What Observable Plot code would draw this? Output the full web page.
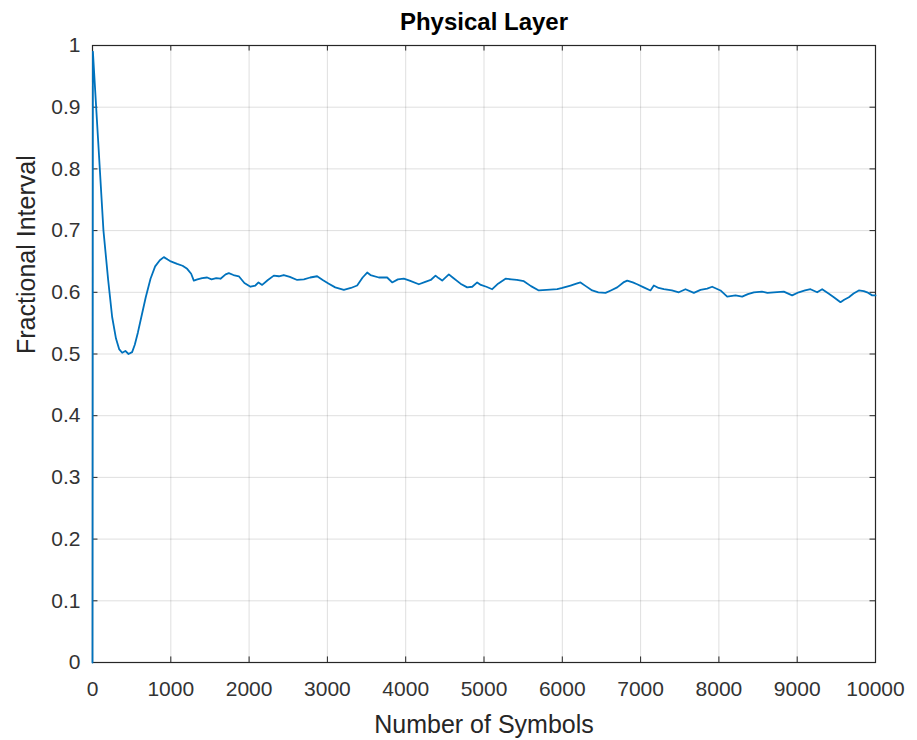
<!DOCTYPE html>
<html><head><meta charset="utf-8">
<script src="https://cdn.jsdelivr.net/npm/d3@7"></script>
<script src="https://cdn.jsdelivr.net/npm/@observablehq/plot@0.6"></script>
<style>body{margin:0;background:#fff}</style>
</head><body><div id="chart"></div>
<script>
const chartTitle = "Physical Layer";
const xLabel = "Number of Symbols";
const yLabel = "Fractional Interval";
const xTicks = [0,1000,2000,3000,4000,5000,6000,7000,8000,9000,10000];
const yTicks = [0,0.1,0.2,0.3,0.4,0.5,0.6,0.7,0.8,0.9,1];
const yTickLabels = ["0","0.1","0.2","0.3","0.4","0.5","0.6","0.7","0.8","0.9","1"];
const symbols = [0,5,70,140,200,251,300,340,379,420,460,506,540,580,613,680,741,800,860,911,960,1000,1040,1081,1150,1209,1260,1294,1340,1400,1464,1520,1580,1635,1700,1741,1800,1869,1940,2018,2080,2120,2167,2240,2316,2380,2443,2520,2614,2700,2780,2869,2940,3018,3100,3210,3300,3380,3450,3508,3550,3657,3763,3827,3900,3976,4050,4168,4250,4320,4381,4420,4466,4551,4600,4700,4785,4850,4913,4960,5030,5105,5180,5275,5350,5420,5509,5600,5700,5800,5935,6000,6105,6180,6232,6300,6382,6460,6552,6620,6701,6780,6829,6900,6956,7040,7126,7169,7230,7297,7400,7488,7573,7680,7765,7850,7914,8020,8106,8212,8297,8370,8446,8550,8620,8701,8829,8935,9020,9100,9170,9255,9319,9400,9468,9553,9600,9660,9720,9787,9850,9894,9958,10000];
const fraction = [0,0.99,0.85,0.70,0.62,0.56,0.525,0.508,0.502,0.505,0.500,0.503,0.515,0.535,0.554,0.592,0.622,0.642,0.652,0.657,0.653,0.650,0.648,0.646,0.643,0.638,0.630,0.619,0.621,0.623,0.624,0.621,0.623,0.622,0.629,0.631,0.628,0.626,0.615,0.609,0.611,0.616,0.612,0.62,0.627,0.626,0.628,0.625,0.62,0.621,0.624,0.626,0.62,0.614,0.608,0.604,0.607,0.611,0.624,0.632,0.628,0.624,0.624,0.616,0.621,0.622,0.619,0.613,0.617,0.62,0.627,0.623,0.619,0.629,0.624,0.614,0.608,0.609,0.616,0.612,0.609,0.605,0.614,0.622,0.621,0.62,0.618,0.61,0.603,0.604,0.605,0.607,0.611,0.614,0.616,0.61,0.603,0.60,0.599,0.603,0.608,0.616,0.619,0.616,0.613,0.608,0.603,0.611,0.607,0.605,0.603,0.600,0.605,0.599,0.604,0.606,0.609,0.603,0.593,0.595,0.593,0.597,0.600,0.601,0.599,0.600,0.601,0.595,0.600,0.603,0.605,0.600,0.605,0.598,0.592,0.584,0.588,0.592,0.598,0.603,0.602,0.600,0.595,0.595];

const data = symbols.map((x, i) => ({x, y: fraction[i]}));
const ink = "#262626";

const chart = Plot.plot({
  width: 917, height: 740,
  marginLeft: 92, marginRight: 42, marginTop: 45, marginBottom: 78,
  style: {fontFamily: "'Liberation Sans', Arial, sans-serif", fontSize: "21px", color: ink, background: "#fff"},
  x: {domain: [0, 10000]},
  y: {domain: [0, 1]},
  marks: [
    Plot.gridX(xTicks, {stroke: ink, strokeOpacity: 0.15}),
    Plot.gridY(yTicks, {stroke: ink, strokeOpacity: 0.15}),
    Plot.ruleX(xTicks, {y1: 0, y2: 0.009, stroke: ink}),
    Plot.ruleX(xTicks, {y1: 1, y2: 0.991, stroke: ink}),
    Plot.ruleY(yTicks, {x1: 0, x2: 70, stroke: ink}),
    Plot.ruleY(yTicks, {x1: 10000, x2: 9930, stroke: ink}),
    Plot.frame({stroke: ink, strokeWidth: 1.2}),
    Plot.line(data, {x: "x", y: "y", stroke: "#0072BD", strokeWidth: 1.8}),
    Plot.axisX(xTicks, {tickSize: 0, tickPadding: 19, label: null, tickFormat: d => String(d), fill: "#333"}),
    Plot.axisY(yTicks, {tickSize: 0, tickPadding: 12, label: null, tickFormat: (d, i) => yTickLabels[i], fill: "#333"}),
    Plot.text([chartTitle], {frameAnchor: "top", lineAnchor: "middle", dy: -23, fontWeight: "bold", fontSize: 24, fill: "#000"}),
    Plot.text([xLabel], {frameAnchor: "bottom", lineAnchor: "middle", dy: 62, fontSize: 25, fill: ink}),
    Plot.text([yLabel], {frameAnchor: "left", lineAnchor: "middle", dx: -66, rotate: -90, fontSize: 25, fill: ink})
  ]
});
document.getElementById("chart").append(chart);
</script>
</body></html>
